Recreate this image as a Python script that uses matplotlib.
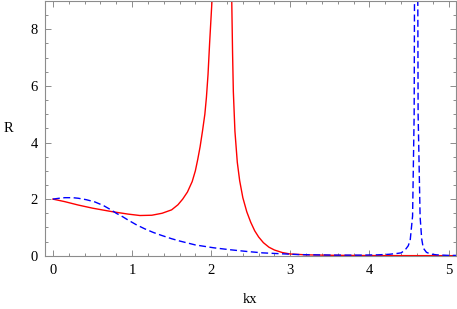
import matplotlib
matplotlib.use("Agg")
import matplotlib.pyplot as plt
from matplotlib.ticker import MultipleLocator

plt.rcParams['font.family'] = ['Liberation Serif', 'DejaVu Serif']

# values
red_kx = [0, 0.15, 0.32, 0.5, 0.74, 0.95, 1.1, 1.25, 1.38, 1.5, 1.58, 1.64,
          1.7, 1.76, 1.8, 1.83, 1.86, 1.89, 1.92, 1.94, 1.96, 1.98, 2.0,
          2.02, 2.06, 2.14, 2.22, 2.26, 2.27, 2.28, 2.30, 2.33, 2.36, 2.40,
          2.45, 2.50, 2.55, 2.60, 2.66, 2.73, 2.80, 2.90, 3.0, 3.2, 3.5,
          4.0, 4.5, 5.1]
red_R = [2.0, 1.91, 1.79, 1.68, 1.56, 1.47, 1.42, 1.43, 1.5, 1.62, 1.8, 2.0,
         2.25, 2.62, 3.0, 3.4, 3.85, 4.4, 5.0, 5.6, 6.4, 7.5, 8.5,
         9.5, 13, 30, 13, 9.0, 7.2, 5.8, 4.4, 3.3, 2.65, 2.05,
         1.55, 1.18, 0.88, 0.66, 0.46, 0.3, 0.2, 0.11, 0.06, 0.03, 0.015,
         0.005, 0.002, 0.001]

blue_kx = [0, 0.08, 0.15, 0.25, 0.32, 0.42, 0.53, 0.64, 0.74, 0.8, 0.88, 0.95,
           1.05, 1.16, 1.27, 1.37, 1.5, 1.6, 1.8, 2.03, 2.24, 2.45, 2.65, 2.87,
           3.1, 3.3, 3.6, 3.9, 4.1, 4.25, 4.35, 4.4, 4.45, 4.49, 4.515, 4.545,
           4.565, 4.59, 4.615, 4.64, 4.66, 4.68, 4.72, 4.77, 4.85, 5.0, 5.1]
blue_R = [2.0, 2.03, 2.05, 2.05, 2.03, 1.98, 1.9, 1.77, 1.61, 1.5, 1.38, 1.26,
          1.1, 0.95, 0.82, 0.72, 0.6, 0.52, 0.38, 0.28, 0.21, 0.15, 0.1, 0.07,
          0.04, 0.03, 0.02, 0.02, 0.03, 0.05, 0.08, 0.1, 0.2, 0.35, 0.55, 1.4,
          5, 30, 5, 1.38, 0.6, 0.27, 0.12, 0.06, 0.03, 0.01, 0.01]

fig = plt.figure(figsize=(4.57, 3.09), dpi=100)
ax = fig.add_axes([45 / 457, 1 - 255.7 / 309, 411.5 / 457, 254.7 / 309])

ax.plot(red_kx, red_R, color='#ff0000', linewidth=1.0)
ax.plot(blue_kx, blue_R, color='#0000ff', linewidth=1.0, dashes=(5, 2.5))

ax.set_xlim(-0.1, 5.1)
ax.set_ylim(0, 9)

ax.xaxis.set_major_locator(MultipleLocator(1))
ax.xaxis.set_minor_locator(MultipleLocator(0.2))
ax.yaxis.set_major_locator(MultipleLocator(2))
ax.yaxis.set_minor_locator(MultipleLocator(0.5))

frame = '0.55'
for s in ax.spines.values():
    s.set_color(frame)
    s.set_linewidth(0.8)
ax.tick_params(which='both', direction='in', top=True, right=True,
               color=frame, width=0.7, labelsize=10.5, labelcolor='black')
ax.tick_params(which='major', length=4.5)
ax.tick_params(which='minor', length=2.5)
ax.tick_params(axis='x', pad=6)
ax.tick_params(axis='y', pad=5)

fig.text(8 / 457, 1 - 129 / 309, 'R', fontsize=10.5, ha='center', va='center')
fig.text(250 / 457, 1 - 299.5 / 309, 'kx', fontsize=10.5, ha='center', va='center')

fig.savefig('out.png', dpi=100)
